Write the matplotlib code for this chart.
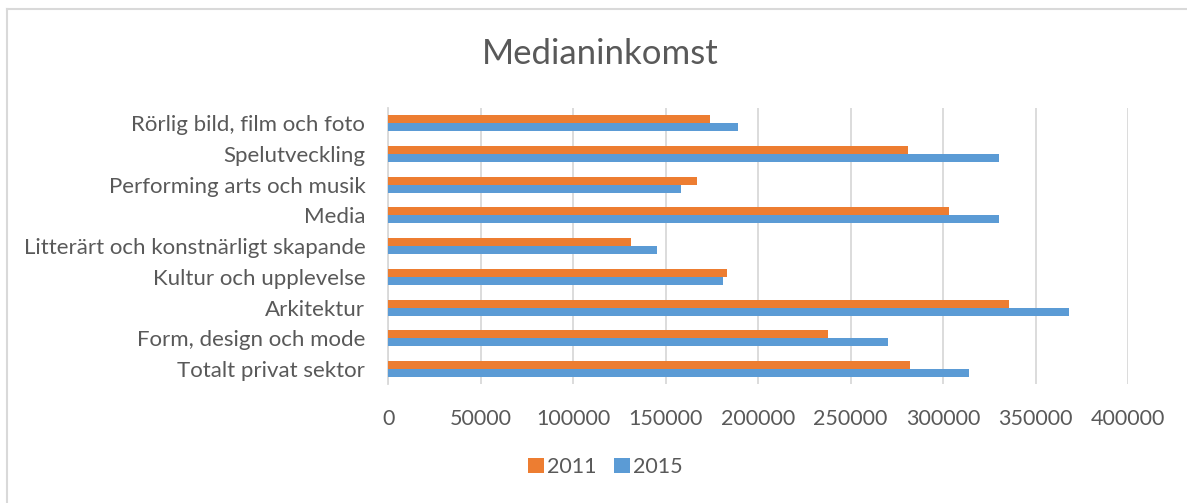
"""Medianinkomst - horizontal grouped bar chart"""

import numpy as np
import matplotlib
matplotlib.use("Agg")
import matplotlib.pyplot as plt
from matplotlib.lines import Line2D

categories = [
    "Rörlig bild, film och foto",
    "Spelutveckling",
    "Performing arts och musik",
    "Media",
    "Litterärt och konstnärligt skapande",
    "Kultur och upplevelse",
    "Arkitektur",
    "Form, design och mode",
    "Totalt privat sektor",
]
values_2011 = [174000, 281000, 167000, 303000, 131000, 183000, 335500, 238000, 282000]
values_2015 = [189000, 330500, 158500, 330000, 145500, 181000, 368000, 270000, 314000]
xticks = [0, 50000, 100000, 150000, 200000, 250000, 300000, 350000, 400000]

ORANGE = "#ED7D31"
BLUE = "#5B9BD5"
TEXT = "#595959"
GRID = "#D9D9D9"


def main():
    plt.rcParams['font.family'] = ['Lato', 'DejaVu Sans']
    fig = plt.figure(figsize=(11.87, 5.03), dpi=100)
    ax = fig.add_axes([0.3271, 0.2360, 0.6232, 0.5493])

    y = np.arange(len(categories))
    h = 0.26
    ax.barh(y - h / 2, values_2011, height=h, color=ORANGE, label="2011", zorder=3)
    ax.barh(y + h / 2, values_2015, height=h, color=BLUE, label="2015", zorder=3)

    ax.set_ylim(len(categories) - 0.5, -0.5)
    ax.set_xlim(0, 400000)
    ax.set_yticks(y)
    ax.set_yticklabels(categories, fontsize=16, color=TEXT)
    ax.set_xticks(xticks)
    ax.set_xticklabels([str(v) for v in xticks], fontsize=15.5, color=TEXT)
    ax.tick_params(axis='both', length=0)
    ax.tick_params(axis='y', pad=16.5)
    ax.tick_params(axis='x', pad=18)

    ax.grid(axis='x', color=GRID, linewidth=1.3, zorder=0)
    for s in ['top', 'right', 'bottom']:
        ax.spines[s].set_visible(False)
    ax.spines['left'].set_color(GRID)
    ax.spines['left'].set_linewidth(1.3)

    fig.text(0.5055, 0.892, "Medianinkomst", ha='center', va='center',
             fontsize=25, color=TEXT)

    ax.legend(loc='center', bbox_to_anchor=(0.51, 1 - 467 / 503),
              bbox_transform=fig.transFigure, ncol=2, frameon=False,
              fontsize=15.5, labelcolor=TEXT, handlelength=0.75,
              handleheight=0.75, handletextpad=0.15, columnspacing=0.8)

    # chart frame (top and left edge visible)
    fig.add_artist(Line2D([7 / 1187, 1], [1 - 9 / 503, 1 - 9 / 503],
                          color=GRID, linewidth=1.5, transform=fig.transFigure))
    fig.add_artist(Line2D([7 / 1187, 7 / 1187], [0, 1 - 9 / 503],
                          color=GRID, linewidth=1.5, transform=fig.transFigure))

    fig.savefig("out.png", dpi=100)


if __name__ == "__main__":
    main()
